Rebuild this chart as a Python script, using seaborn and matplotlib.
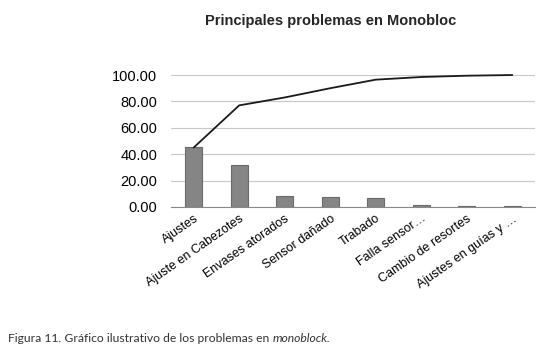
import matplotlib
matplotlib.use('Agg')
import matplotlib.pyplot as plt
import pandas as pd
import seaborn as sns

categorias = ['Ajustes', 'Ajuste en Cabezotes', 'Envases atorados', 'Sensor dañado',
              'Trabado', 'Falla sensor…', 'Cambio de resortes', 'Ajustes en guías y …']
porcentaje = [45.5, 31.5, 8.2, 7.3, 6.5, 1.8, 0.5, 0.5]
acumulado = [45.0, 77.0, 83.0, 90.0, 96.5, 98.5, 99.5, 100.0]
y_ticks = [0, 20, 40, 60, 80, 100]

sns.set_style('white')
plt.rcParams['font.family'] = ['Liberation Sans', 'DejaVu Sans']

df = pd.DataFrame({'cat': categorias, 'pct': porcentaje, 'acum': acumulado})

fig = plt.figure(figsize=(5.46, 3.49), dpi=100)
ax = fig.add_axes([0.313, 0.407, 0.667, 0.378])

sns.barplot(x='cat', y='pct', data=df, color='#858585', width=0.38,
            edgecolor='#6a6a6a', linewidth=0.8, saturation=1, ax=ax, zorder=2)
sns.lineplot(x='cat', y='acum', data=df, color='#1a1a1a', linewidth=1.3,
             sort=False, ax=ax, zorder=3, clip_on=False)

ax.set_ylim(0, 100)
ax.set_xlim(-0.5, len(categorias) - 0.5)
ax.set_yticks(y_ticks)
ax.set_yticklabels(['{:.2f}'.format(v) for v in y_ticks], fontsize=10.5, color='black')
ax.yaxis.grid(True, color='#c8c8c8', linewidth=0.8)
ax.set_axisbelow(True)
for s in ['top', 'right', 'left']:
    ax.spines[s].set_visible(False)
ax.spines['bottom'].set_color('#888888')
ax.tick_params(axis='y', length=0, pad=10)

ax.set_xticks(range(len(categorias)))
ax.set_xticklabels(categorias, rotation=35, ha='right', rotation_mode='anchor',
                   fontsize=9, color='black')
ax.tick_params(axis='x', length=0, pad=4)
ax.set_xticks([i - 0.5 for i in range(len(categorias) + 1)], minor=True)
ax.tick_params(axis='x', which='minor', length=4, color='#888888', direction='out')
ax.set_xlabel('')
ax.set_ylabel('')

fig.text(0.605, 0.94, 'Principales problemas en Monobloc', ha='center', va='center',
         fontsize=10.5, fontweight='bold')
cap = fig.text(0.015, 0.02, 'Figura 11. Gráfico ilustrativo de los problemas en ', fontsize=8.7,
               color='#333333', family=['Lato', 'DejaVu Sans'])
r = fig.canvas.get_renderer()
bb = cap.get_window_extent(renderer=r)
fig.text(bb.x1 / fig.bbox.width, 0.02, 'monoblock.', fontsize=8.7, style='italic',
         color='#333333', family=['Lato', 'DejaVu Sans'])

fig.savefig('out.png', dpi=100)
